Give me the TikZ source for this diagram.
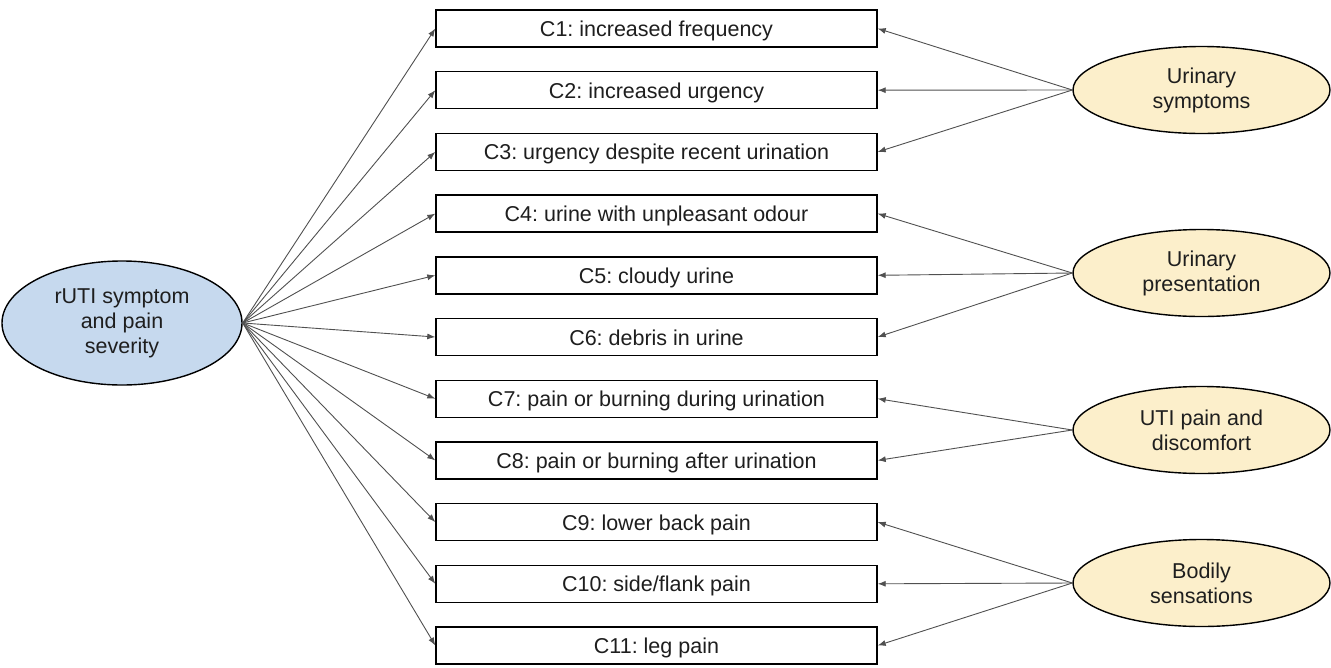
\documentclass[tikz,border=0pt]{standalone}
\usepackage{fontspec}
\setmainfont{Liberation Sans}
\usetikzlibrary{shapes.geometric,arrows.meta}
\frenchspacing
\definecolor{txt}{HTML}{1E1E1E}
\definecolor{lblue}{HTML}{C6D9EE}
\definecolor{lbeige}{HTML}{FCEFCB}
\definecolor{conn}{HTML}{505050}
\tikzset{
  cbox/.style={draw=black,line width=1.4pt,fill=white,minimum width=441pt,minimum height=37pt,inner sep=0pt,text height=16pt,text depth=0pt,text=txt,font=\fontsize{21.5}{25}\selectfont},
  factor/.style={ellipse,draw=black,line width=1.4pt,inner sep=0pt,align=center,text=txt,font=\fontsize{21.5}{25}\selectfont},
  arr/.style={draw=conn,line width=0.9pt,-{Latex[length=8pt,width=6pt]}}
}
\begin{document}
\begin{tikzpicture}[x=1pt,y=-1pt]
\useasboundingbox (0,0) rectangle (1331,667);
\node[factor,fill=lblue,minimum width=240pt,minimum height=124pt] (L) at (122,323) {rUTI symptom\\and pain\\severity};
\foreach \i/\t in {1/{C1: increased frequency},2/{C2: increased urgency},3/{C3: urgency despite recent urination},4/{C4: urine with unpleasant odour},5/{C5: cloudy urine},6/{C6: debris in urine},7/{C7: pain or burning during urination},8/{C8: pain or burning after urination},9/{C9: lower back pain},10/{C10: side/flank pain},11/{C11: leg pain}}{
  \node[cbox] (c\i) at (656.5,{28.5+61.7*(\i-1)}) {\t};
  \draw[arr] (L.east) -- (c\i.west);
}
\node[factor,fill=lbeige,minimum width=257pt,minimum height=87pt] (R1) at (1201.5,90) {Urinary\\symptoms};
\node[factor,fill=lbeige,minimum width=257pt,minimum height=87pt] (R2) at (1201.5,273) {Urinary\\presentation};
\node[factor,fill=lbeige,minimum width=257pt,minimum height=87pt] (R3) at (1201.5,430) {UTI pain and\\discomfort};
\node[factor,fill=lbeige,minimum width=257pt,minimum height=87pt] (R4) at (1201.5,583) {Bodily\\sensations};
\foreach \r/\c in {R1/c1,R1/c2,R1/c3,R2/c4,R2/c5,R2/c6,R3/c7,R3/c8,R4/c9,R4/c10,R4/c11}{
  \draw[arr] (\r.west) -- (\c.east);
}
\end{tikzpicture}
\end{document}
